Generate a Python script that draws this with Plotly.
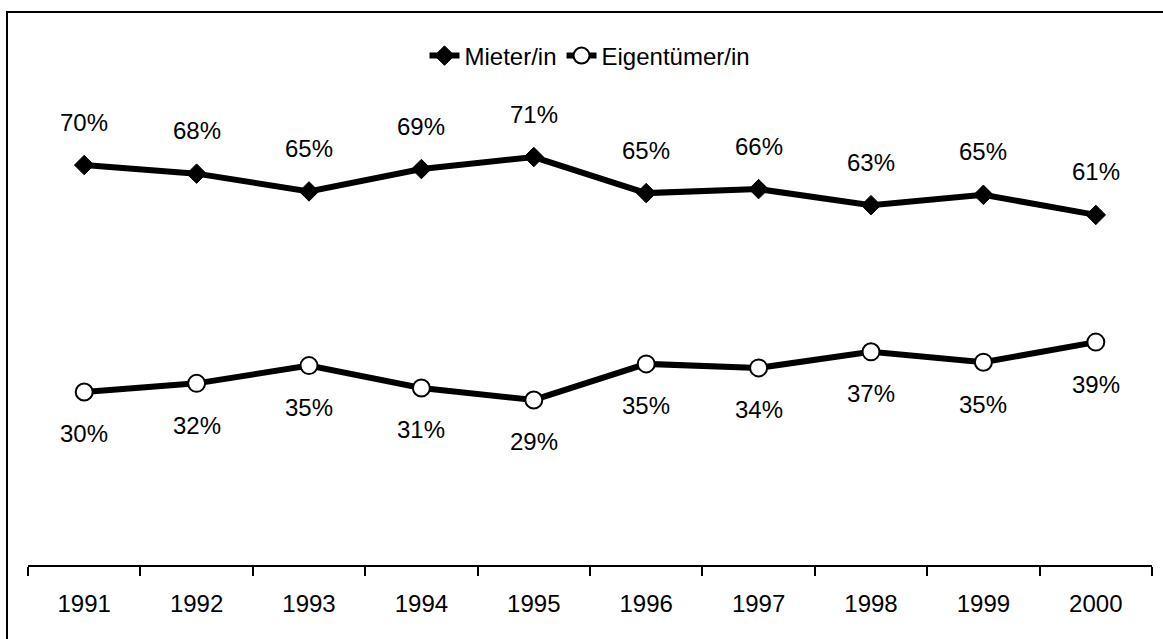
import plotly.graph_objects as go

years = ["1991", "1992", "1993", "1994", "1995", "1996", "1997", "1998", "1999", "2000"]
mieter = [69.8, 68.3, 65.2, 69.1, 71.2, 64.9, 65.6, 62.8, 64.6, 61.1]
eigentuemer = [30.2, 31.7, 34.8, 30.9, 28.8, 35.1, 34.4, 37.2, 35.4, 38.9]
series_names = ["Mieter/in", "Eigentümer/in"]

FONT = "Liberation Sans, Arial, sans-serif"

fig = go.Figure()
fig.add_trace(go.Scatter(
    x=years, y=mieter, name=series_names[0], mode="lines+markers",
    line=dict(color="black", width=6),
    marker=dict(symbol="diamond", size=15, color="black", line=dict(color="black", width=1)),
))
fig.add_trace(go.Scatter(
    x=years, y=eigentuemer, name=series_names[1], mode="lines+markers",
    line=dict(color="black", width=6),
    marker=dict(symbol="circle", size=17, color="white", line=dict(color="black", width=2)),
))

annotations = []
for i, v in enumerate(mieter):
    annotations.append(dict(x=i, y=v, xref="x", yref="y", text=f"{round(v)}%",
                            showarrow=False, yshift=43, font=dict(size=24, color="black", family=FONT)))
for i, v in enumerate(eigentuemer):
    annotations.append(dict(x=i, y=v, xref="x", yref="y", text=f"{round(v)}%",
                            showarrow=False, yshift=-42, font=dict(size=24, color="black", family=FONT)))

W, H = 1163, 639
ml, mr, mt, mb = 28, 11, 12, 74
pw = W - ml - mr
ph = H - mt - mb

fig.update_layout(
    width=W, height=H,
    margin=dict(l=ml, r=mr, t=mt, b=mb, pad=0),
    paper_bgcolor="white", plot_bgcolor="white",
    font=dict(family=FONT, size=24, color="black"),
    showlegend=True,
    legend=dict(orientation="h", x=(590 - ml) / pw, xanchor="center",
                y=(H - mb - 56) / ph, yanchor="middle",
                font=dict(size=24, color="black", family=FONT),
                bgcolor="rgba(0,0,0,0)", itemclick=False, tracegroupgap=0),
    annotations=annotations,
    shapes=[dict(type="rect", xref="paper", yref="paper",
                 x0=(7 - ml) / pw, x1=(1175 - ml) / pw,
                 y0=(H - mb - 660) / ph, y1=(H - mb - 12) / ph,
                 line=dict(color="black", width=2), fillcolor="rgba(0,0,0,0)", layer="above")],
)
fig.update_xaxes(type="category", range=[-0.5, 9.5], showline=True, linecolor="black", linewidth=2,
                 ticks="outside", tickson="boundaries", ticklen=9, tickwidth=2, tickcolor="black",
                 showgrid=False, zeroline=False, ticklabelstandoff=16,
                 tickfont=dict(size=24, color="black", family=FONT))
fig.update_yaxes(range=[0, (H - mb - mt) / 5.73], visible=False, showgrid=False, zeroline=False)

fig.write_html("out.html", config={"displayModeBar": False},
               post_script="document.body.style.margin='0';document.body.style.overflow='hidden';")
